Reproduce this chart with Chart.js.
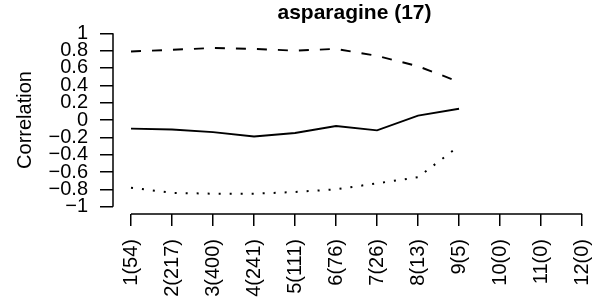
<!DOCTYPE html>
<html>
<head>
<meta charset="utf-8">
<script src="https://cdn.jsdelivr.net/npm/chart.js@4"></script>
<style>
  html, body { margin: 0; padding: 0; background: #fff; }
  #wrap { width: 596px; height: 305px; position: relative; }
</style>
</head>
<body>
<div id="wrap"><canvas id="chartCorr"></canvas></div>
<script>
// data
const chartTitle = 'asparagine (17)';
const xLabels = ['1(54)','2(217)','3(400)','4(241)','5(111)','6(76)','7(26)','8(13)','9(5)','10(0)','11(0)','12(0)'];
const xPos = [1,2,3,4,5,6,7,8,9,10,11,12];
const upperVals = [0.79, 0.81, 0.83, 0.82, 0.80, 0.82, 0.74, 0.62, 0.44, null, null, null];
const corrVals  = [-0.10, -0.11, -0.14, -0.19, -0.15, -0.07, -0.12, 0.05, 0.13, null, null, null];
const lowerVals = [-0.78, -0.84, -0.85, -0.85, -0.83, -0.80, -0.73, -0.66, -0.30, null, null, null];
const yTicks = [-1, -0.8, -0.6, -0.4, -0.2, 0, 0.2, 0.4, 0.6, 0.8, 1];

const FONT = 'Liberation Sans, Arial, Helvetica, sans-serif';

const pts = arr => xPos.map((x, i) => ({ x: x, y: arr[i] }));

// R style: axis lines only from first to last tick, title over plot region
const rAxes = {
  id: 'rAxes',
  afterDraw(chart) {
    const c = chart.ctx, xs = chart.scales.x, ys = chart.scales.y, a = chart.chartArea;
    c.save();
    c.strokeStyle = '#000';
    c.lineWidth = 1.5;
    c.beginPath();
    c.moveTo(xs.getPixelForValue(xPos[0]), a.bottom);
    c.lineTo(xs.getPixelForValue(xPos[xPos.length - 1]), a.bottom);
    c.moveTo(a.left, ys.getPixelForValue(yTicks[0]));
    c.lineTo(a.left, ys.getPixelForValue(yTicks[yTicks.length - 1]));
    c.stroke();
    c.fillStyle = '#000';
    c.font = 'bold 21px ' + FONT;
    c.textAlign = 'center';
    c.textBaseline = 'middle';
    c.fillText(chartTitle, (a.left + a.right) / 2, 13);
    c.restore();
  }
};

new Chart(document.getElementById('chartCorr'), {
  type: 'line',
  data: {
    datasets: [
      { data: pts(upperVals), borderColor: '#000', borderWidth: 1.9, borderDash: [10, 11], pointRadius: 0, tension: 0 },
      { data: pts(corrVals), borderColor: '#000', borderWidth: 1.9, pointRadius: 0, tension: 0 },
      { data: pts(lowerVals), borderColor: '#000', borderWidth: 2, borderDash: [2, 9], pointRadius: 0, tension: 0 }
    ]
  },
  options: {
    responsive: true,
    maintainAspectRatio: false,
    animation: false,
    layout: { padding: { top: 26, right: 0, left: 0, bottom: 0 } },
    plugins: { legend: { display: false }, tooltip: { enabled: false }, title: { display: false } },
    scales: {
      x: {
        type: 'linear',
        min: 0.561,
        max: 12.34,
        afterBuildTicks: s => { s.ticks = xPos.map(v => ({ value: v })); },
        afterFit: s => { s.height = 305 - 26 - 188; s.paddingLeft = 0; s.paddingRight = 0; },
        border: { display: false },
        grid: { drawOnChartArea: false, drawTicks: true, tickLength: 12, color: '#000', lineWidth: 1.5 },
        ticks: {
          color: '#000',
          font: { family: FONT, size: 20 },
          padding: 13,
          minRotation: 90,
          maxRotation: 90,
          autoSkip: false,
          callback: v => xLabels[xPos.indexOf(v)]
        }
      },
      y: {
        min: -1.084,
        max: 1.084,
        afterBuildTicks: s => { s.ticks = yTicks.map(v => ({ value: v })); },
        afterFit: s => { s.width = 113; s.paddingTop = 0; s.paddingBottom = 0; },
        border: { display: false },
        grid: { drawOnChartArea: false, drawTicks: true, tickLength: 13, color: '#000', lineWidth: 1.5 },
        ticks: {
          color: '#000',
          font: { family: FONT, size: 20 },
          padding: 12,
          autoSkip: false,
          callback: v => (v < 0 ? '\u2212' + Math.abs(v) : String(v))
        },
        title: { display: true, text: 'Correlation', color: '#000', font: { family: FONT, size: 20 }, padding: { top: 13, bottom: 0 } }
      }
    }
  },
  plugins: [rAxes]
});
</script>
</body>
</html>
